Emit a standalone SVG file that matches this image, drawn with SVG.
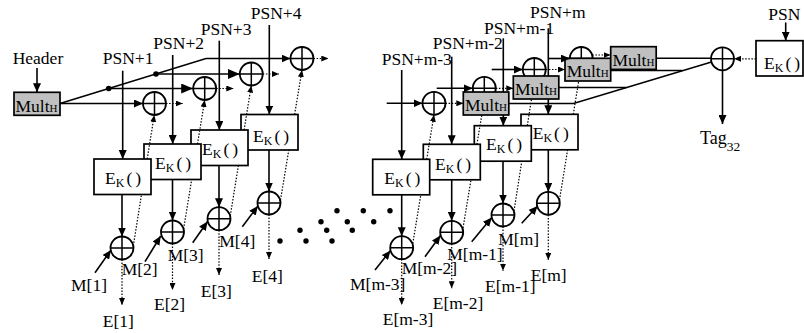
<svg xmlns="http://www.w3.org/2000/svg" width="804" height="333" viewBox="0 0 804 333">
<defs>
<marker id="a" markerUnits="userSpaceOnUse" markerWidth="9" markerHeight="8" refX="9" refY="4" orient="auto"><path d="M0,0 L9,4 L0,8 z" fill="#000"/></marker>
<marker id="A" markerUnits="userSpaceOnUse" markerWidth="12" markerHeight="10" refX="12" refY="5" orient="auto"><path d="M0,0 L12,5 L0,10 z" fill="#000"/></marker>
<marker id="d" markerUnits="userSpaceOnUse" markerWidth="7" markerHeight="6" refX="7" refY="3" orient="auto"><path d="M0,0 L7,3 L0,6 z" fill="#000"/></marker>
</defs>
<style>
.t{font-family:"Liberation Serif","Times New Roman",serif;font-size:17.5px;fill:#000}
.ln{fill:none;stroke:#000;stroke-width:1.6}
.dt{fill:none;stroke:#000;stroke-width:1.2;stroke-dasharray:1.5 1.6}
.box{fill:#fff;stroke:#000;stroke-width:1.7}
.mult{fill:#c0c0c0;stroke:#000;stroke-width:1.7}
.x{fill:#fff;stroke:#000;stroke-width:1.8}
.xp{fill:none;stroke:#000;stroke-width:1.5}
.sub{font-size:12px}
.h{font-size:11px}
</style>
<rect width="804" height="333" fill="#fff"/>

<!-- nodes: left -->
<g id="multH0"><rect class="mult" x="14" y="92.3" width="46" height="23"/><text class="t" x="15.5" y="111.5">Mult<tspan class="h">H</tspan></text></g>
<g id="xor-acc1"><circle class="x" cx="154.5" cy="103.5" r="11.5"/><path class="xp" d="M143,103.5 h23 M154.5,92 v23"/></g>
<g id="xor-acc2"><circle class="x" cx="204.7" cy="88.5" r="11.5"/><path class="xp" d="M193.2,88.5 h23 M204.7,77 v23"/></g>
<g id="xor-acc3"><circle class="x" cx="251.3" cy="74" r="11.5"/><path class="xp" d="M239.8,74 h23 M251.3,62.5 v23"/></g>
<g id="xor-acc4"><circle class="x" cx="302" cy="58.5" r="11.5"/><path class="xp" d="M290.5,58.5 h23 M302,47 v23"/></g>
<g id="ek4"><rect class="box" x="241" y="114.5" width="57" height="35.5"/><text class="t" x="253" y="141.5">E<tspan class="sub" dy="3">K</tspan><tspan dy="-3" dx="2" letter-spacing="3">()</tspan></text></g>
<g id="ek3"><rect class="box" x="191" y="130" width="57" height="35.5"/><text class="t" x="202" y="155">E<tspan class="sub" dy="3">K</tspan><tspan dy="-3" dx="2" letter-spacing="3">()</tspan></text></g>
<g id="ek2"><rect class="box" x="144" y="144" width="57" height="35.5"/><text class="t" x="155" y="169">E<tspan class="sub" dy="3">K</tspan><tspan dy="-3" dx="2" letter-spacing="3">()</tspan></text></g>
<g id="ek1"><rect class="box" x="94" y="159" width="57" height="35.5"/><text class="t" x="105" y="184">E<tspan class="sub" dy="3">K</tspan><tspan dy="-3" dx="2" letter-spacing="3">()</tspan></text></g>
<g id="xor-out1"><circle class="x" cx="122" cy="248" r="11.5"/><path class="xp" d="M110.5,248 h23 M122,236.5 v23"/></g>
<g id="xor-out2"><circle class="x" cx="172.5" cy="232" r="11.5"/><path class="xp" d="M161,232 h23 M172.5,220.5 v23"/></g>
<g id="xor-out3"><circle class="x" cx="219" cy="218.7" r="11.5"/><path class="xp" d="M207.5,218.7 h23 M219,207.2 v23"/></g>
<g id="xor-out4"><circle class="x" cx="269" cy="203" r="11.5"/><path class="xp" d="M257.5,203 h23 M269,191.5 v23"/></g>

<!-- nodes: right -->
<g id="xor-accm3"><circle class="x" cx="434" cy="103.3" r="11.5"/><path class="xp" d="M422.5,103.3 h23 M434,91.8 v23"/></g>
<g id="xor-accm2"><circle class="x" cx="484.3" cy="88.3" r="11.5"/><path class="xp" d="M472.8,88.3 h23 M484.3,76.8 v23"/></g>
<g id="xor-accm1"><circle class="x" cx="534.3" cy="69.5" r="11.5"/><path class="xp" d="M522.8,69.5 h23 M534.3,58 v23"/></g>
<g id="xor-accm"><circle class="x" cx="581.3" cy="58.5" r="11.5"/><path class="xp" d="M569.8,58.5 h23 M581.3,47 v23"/></g>
<g id="multHm3"><rect class="mult" x="463.3" y="92" width="45.5" height="23"/><text class="t" x="465" y="111">Mult<tspan class="h">H</tspan></text></g>
<g id="multHm2"><rect class="mult" x="513.3" y="76" width="45.5" height="23"/><text class="t" x="515" y="95">Mult<tspan class="h">H</tspan></text></g>
<g id="multHm1"><rect class="mult" x="565" y="58.3" width="45.7" height="22.7"/><text class="t" x="566.7" y="77">Mult<tspan class="h">H</tspan></text></g>
<g id="multHm"><rect class="mult" x="610.7" y="46.7" width="45.5" height="22.7"/><text class="t" x="612.4" y="65.5">Mult<tspan class="h">H</tspan></text></g>
<g id="ekm"><rect class="box" x="521" y="114.3" width="57" height="35.5"/><text class="t" x="532.7" y="138.5">E<tspan class="sub" dy="3">K</tspan><tspan dy="-3" dx="2" letter-spacing="3">()</tspan></text></g>
<g id="ekm1"><rect class="box" x="474.3" y="125.7" width="57" height="35.5"/><text class="t" x="486" y="149.5">E<tspan class="sub" dy="3">K</tspan><tspan dy="-3" dx="2" letter-spacing="3">()</tspan></text></g>
<g id="ekm2"><rect class="box" x="423.3" y="144.3" width="57" height="35.5"/><text class="t" x="435" y="170">E<tspan class="sub" dy="3">K</tspan><tspan dy="-3" dx="2" letter-spacing="3">()</tspan></text></g>
<g id="ekm3"><rect class="box" x="372.7" y="159.3" width="57" height="35.5"/><text class="t" x="384.3" y="184">E<tspan class="sub" dy="3">K</tspan><tspan dy="-3" dx="2" letter-spacing="3">()</tspan></text></g>
<g id="xor-outm3"><circle class="x" cx="401.7" cy="247.7" r="11.5"/><path class="xp" d="M390.2,247.7 h23 M401.7,236.2 v23"/></g>
<g id="xor-outm2"><circle class="x" cx="451.7" cy="232.3" r="11.5"/><path class="xp" d="M440.2,232.3 h23 M451.7,220.8 v23"/></g>
<g id="xor-outm1"><circle class="x" cx="503" cy="215" r="11.5"/><path class="xp" d="M491.5,215 h23 M503,203.5 v23"/></g>
<g id="xor-outm"><circle class="x" cx="548.3" cy="203.3" r="11.5"/><path class="xp" d="M536.8,203.3 h23 M548.3,191.8 v23"/></g>
<g id="xor-final"><circle class="x" cx="722.5" cy="58.8" r="11.5"/><path class="xp" d="M711,58.8 h23 M722.5,47.3 v23"/></g>
<g id="ek-psn"><rect class="box" x="756" y="40.7" width="47" height="35.3"/><text class="t" x="764" y="69">E<tspan class="sub" dy="3">K</tspan><tspan dy="-3" dx="2" letter-spacing="3">()</tspan></text></g>

<!-- ellipsis -->
<g id="ellipsis" fill="#000">
<circle cx="280" cy="241" r="2.7"/><circle cx="300" cy="230.3" r="2.7"/><circle cx="321" cy="221.7" r="2.7"/><circle cx="337" cy="210.7" r="2.7"/>
<circle cx="306" cy="241" r="2.7"/><circle cx="326.7" cy="230.3" r="2.7"/><circle cx="347.3" cy="221.7" r="2.7"/><circle cx="363.3" cy="210.7" r="2.7"/>
<circle cx="332" cy="241" r="2.7"/><circle cx="352.3" cy="230.3" r="2.7"/><circle cx="373.7" cy="221.7" r="2.7"/><circle cx="390" cy="210.7" r="2.7"/>
</g>

<!-- connectors -->
<g id="connectors">
<g class="ln">
<path d="M37,68 V92.3" marker-end="url(#a)"/>
<path d="M60,103.5 H143" marker-end="url(#a)"/>
<path d="M60,103.5 L206,58.5 H290.5" marker-end="url(#a)"/>
<path d="M108.7,88.5 H193.2" marker-end="url(#A)"/>
<path d="M156,74 H239.8" marker-end="url(#A)"/>
<path d="M122.7,70.7 V159" marker-end="url(#a)"/>
<path d="M172.7,55 V144" marker-end="url(#a)"/>
<path d="M219.3,40.7 V130" marker-end="url(#a)"/>
<path d="M269.3,25 V114.5" marker-end="url(#a)"/>
<path d="M401.7,70 V159.3" marker-end="url(#a)"/>
<path d="M451.7,56.7 V144.3" marker-end="url(#a)"/>
<path d="M503.3,38.3 V92"/>
<path d="M503.3,115 V125.7" marker-end="url(#a)"/>
<path d="M548.3,28.3 V76"/>
<path d="M548.3,99 V114.3" marker-end="url(#a)"/>
<path d="M785.7,22.5 V40.7" marker-end="url(#a)"/>
<path d="M122,194.5 V236.5" marker-end="url(#a)"/>
<path d="M172.5,179.5 V220.5" marker-end="url(#a)"/>
<path d="M219,165.5 V207.2" marker-end="url(#a)"/>
<path d="M269,150 V191.5" marker-end="url(#a)"/>
<path d="M401.7,194.8 V236.2" marker-end="url(#a)"/>
<path d="M451.7,179.8 V220.8" marker-end="url(#a)"/>
<path d="M503,161.2 V203.5" marker-end="url(#a)"/>
<path d="M548.3,149.8 V191.8" marker-end="url(#a)"/>
<path d="M95,272.7 L111,250" marker-end="url(#a)"/>
<path d="M145,261.7 L160.7,236" marker-end="url(#a)"/>
<path d="M192.7,242.7 L207.6,221.5" marker-end="url(#a)"/>
<path d="M242.3,226.7 L257.9,206" marker-end="url(#a)"/>
<path d="M375,270 L390.5,250.5" marker-end="url(#a)"/>
<path d="M425,256.7 L440.5,235.5" marker-end="url(#a)"/>
<path d="M471.7,241.7 L491.8,217.5" marker-end="url(#a)"/>
<path d="M521.7,223.3 L537.6,206" marker-end="url(#a)"/>
<path d="M386.7,103.3 H422.5" marker-end="url(#a)"/>
<path d="M436.7,88.3 H472.8" marker-end="url(#a)"/>
<path d="M491.7,69.5 H522.8" marker-end="url(#a)"/>
<path d="M548.3,58.5 H569.8" marker-end="url(#a)"/>
<path d="M508.8,103.5 H573.5 L711.5,62"/>
<path d="M558.8,87.5 H626.4"/>
<path d="M610.7,70.5 H682.5"/>
<path d="M656.2,58.3 H711"/>
<path d="M722.5,70.3 V124" marker-end="url(#a)"/>
</g>
<g fill="#000"><circle cx="108.7" cy="88.5" r="2.8"/><circle cx="156" cy="74" r="2.8"/></g>
<g class="dt">
<path d="M166,103.5 H182.7" marker-end="url(#d)"/>
<path d="M216.2,88.5 H233.3" marker-end="url(#d)"/>
<path d="M262.8,74 H279" marker-end="url(#d)"/>
<path d="M313.5,58.5 H328.3" marker-end="url(#d)"/>
<path d="M445.5,103.3 H463.3" marker-end="url(#d)"/>
<path d="M495.8,88.3 H513.3" marker-end="url(#d)"/>
<path d="M545.8,69.5 H565" marker-end="url(#d)"/>
<path d="M592.3,55 H610.7" marker-end="url(#d)"/>
<path d="M756,58.8 H734" marker-end="url(#d)"/>
<path d="M122,259.5 V305" marker-end="url(#d)"/>
<path d="M172.5,243.5 V290" marker-end="url(#d)"/>
<path d="M219,230.2 V275" marker-end="url(#d)"/>
<path d="M269,214.5 V259" marker-end="url(#d)"/>
<path d="M401.7,259.2 V305" marker-end="url(#d)"/>
<path d="M451.7,243.8 V288.3" marker-end="url(#d)"/>
<path d="M503,226.5 V270.7" marker-end="url(#d)"/>
<path d="M548.3,214.8 V260" marker-end="url(#d)"/>
<path d="M133.3,246 L141.5,194.5"/>
<path d="M147.2,159 L154.3,115" marker-end="url(#d)"/>
<path d="M183.6,229 L191.7,179.5"/>
<path d="M197.5,144 L204.7,100" marker-end="url(#d)"/>
<path d="M230.3,215.8 L238.4,165.5"/>
<path d="M244.1,130 L251.3,85.5" marker-end="url(#d)"/>
<path d="M280.5,200 L288.8,150"/>
<path d="M294.6,114.5 L302,70" marker-end="url(#d)"/>
<path d="M412.8,243.5 L420.8,194.8"/>
<path d="M426.7,159.3 L434,114.8" marker-end="url(#d)"/>
<path d="M463,228 L471,179.8"/>
<path d="M476.9,144.3 L481.8,115"/>
<path d="M514,211 L521.8,161.2"/>
<path d="M527.3,125.7 L531.5,99"/>
<path d="M559.5,200 L567.6,149.8"/>
<path d="M573.3,114.3 L578.7,81"/>
</g>
</g>

<!-- labels -->
<g id="labels" class="t">
<text x="12.7" y="63.5">Header</text>
<text x="102.7" y="64">PSN+1</text>
<text x="153.3" y="48.5">PSN+2</text>
<text x="200.7" y="34.5">PSN+3</text>
<text x="250.7" y="18.5">PSN+4</text>
<text x="381.7" y="65">PSN+m-3</text>
<text x="432.7" y="49">PSN+m-2</text>
<text x="484" y="34">PSN+m-1</text>
<text x="530" y="17.5">PSN+m</text>
<text x="768.3" y="19.5">PSN</text>
<text x="71" y="290.7">M[1]</text>
<text x="121.7" y="275">M[2]</text>
<text x="167.7" y="261">M[3]</text>
<text x="219.3" y="246.7">M[4]</text>
<text x="102.7" y="326.7">E[1]</text>
<text x="154" y="310">E[2]</text>
<text x="200.7" y="296.7">E[3]</text>
<text x="251.7" y="281.7">E[4]</text>
<text x="350" y="290">M[m-3]</text>
<text x="401.7" y="274">M[m-2]</text>
<text x="447.3" y="260">M[m-1]</text>
<text x="498.3" y="245">M[m]</text>
<text x="382.7" y="325">E[m-3]</text>
<text x="432.7" y="309.3">E[m-2]</text>
<text x="485" y="291.7">E[m-1]</text>
<text x="530.7" y="281">E[m]</text>
<text x="700" y="144" font-size="18">Tag<tspan font-size="13.5" dy="7">32</tspan></text>
</g>
</svg>
